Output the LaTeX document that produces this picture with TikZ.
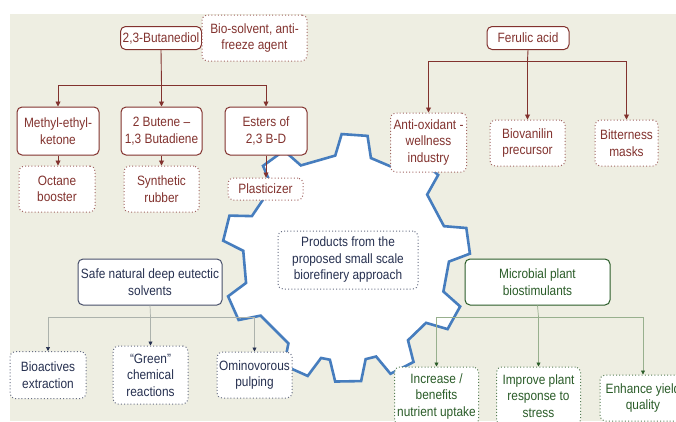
\documentclass[tikz,border=0pt]{standalone}
\usepackage{fontspec}
\setmainfont{Liberation Sans}[FakeStretch=0.88]
\usepackage{tikz}
\usepackage{xcolor}
\usetikzlibrary{arrows.meta}

\definecolor{bgbeige}{RGB}{238,238,226}
\definecolor{brownc}{RGB}{130,50,46}
\definecolor{navyc}{RGB}{38,48,80}
\definecolor{greenc}{RGB}{42,92,40}
\definecolor{gearblue}{RGB}{70,125,190}
\definecolor{grayline}{RGB}{172,178,172}
\definecolor{greenline}{RGB}{152,176,142}

\tikzset{
  prodbox/.style={rectangle, rounded corners=5pt, fill=white, align=center,
    inner sep=0pt, line width=1pt, font=\fontsize{13.5pt}{16.5pt}\selectfont},
  dots/.style={dash pattern=on 1pt off 2.2pt, line width=1pt},
  brownbox/.style={prodbox, draw=brownc, text=brownc},
  browndots/.style={prodbox, dots, draw=brownc!75, text=brownc},
  navybox/.style={prodbox, draw=navyc!85, text=navyc},
  navydots/.style={prodbox, dots, draw=navyc!70, text=navyc},
  greenbox/.style={prodbox, draw=greenc, text=greenc},
  greendots/.style={prodbox, dots, draw=greenc!80, text=greenc},
  brownarrow/.style={draw=brownc, line width=0.9pt, -{Triangle[width=5pt,length=5pt]}},
  grayarrow/.style={draw=grayline, line width=0.7pt, -{Triangle[width=4pt,length=4pt,color=navyc]}},
  greenarrow/.style={draw=greenline, line width=0.7pt, -{Triangle[width=4pt,length=4pt,color=greenc]}}
}

\begin{document}
\begin{tikzpicture}[x=1pt, y=-1pt]
  % Page frame and background
  \clip (0,0) rectangle (676,421);
  \fill[white] (0,0) rectangle (676,421);
  \fill[bgbeige] (10,14) rectangle (676,421);

  % Gear in the middle
  \begin{scope}[shift={(346,258)}, yscale=-1]
    \draw[gearblue, line width=2.6pt, fill=white, line join=miter]
      (-166:103) \foreach \a in {-156,-114,-89,-63,-29,8,48,86,126,166} {
        -- (\a-10:103) -- (\a-6:124) -- (\a+6:124) -- (\a+10:103)
      } -- cycle;
  \end{scope}
  \node[navydots, minimum width=140pt, minimum height=58pt] (center) at (348,260)
    {Products from the\\proposed small scale\\biorefinery approach};

  % 2,3-Butanediol branch
  \node[brownbox, minimum width=81pt, minimum height=23pt] (butanediol) at (161,38) {2,3-Butanediol};
  \node[browndots, minimum width=105pt, minimum height=46pt] (biosolvent) at (254.5,38) {Bio-solvent, anti-\\freeze agent};
  \node[brownbox, minimum width=82pt, minimum height=48pt] (mek) at (58,131) {Methyl-ethyl-\\ketone};
  \node[brownbox, minimum width=81pt, minimum height=48pt] (butene) at (161.5,131) {2 Butene –\\1,3 Butadiene};
  \node[brownbox, minimum width=82pt, minimum height=48pt] (esters) at (266,131) {Esters of\\2,3 B-D};
  \node[browndots, minimum width=76pt, minimum height=46pt] (octane) at (57,189) {Octane\\booster};
  \node[browndots, minimum width=75pt, minimum height=46pt] (rubber) at (161.5,189) {Synthetic\\rubber};
  \node[browndots, minimum width=75pt, minimum height=22pt] (plasticizer) at (265.5,189) {Plasticizer};

  \coordinate (bdbus) at (161.5,85);
  \draw[brownc, line width=0.9pt] (butanediol.south) -- (bdbus);
  \draw[brownarrow] (bdbus) -| (mek.north);
  \draw[brownarrow] (bdbus) -- (butene.north);
  \draw[brownarrow] (bdbus) -| (esters.north);
  \draw[brownarrow] (mek.south) -- (mek.south |- octane.north);
  \draw[brownarrow] (butene.south) -- (rubber.north);
  \draw[brownarrow] (esters.south) -- (esters.south |- plasticizer.north);

  % Ferulic acid branch
  \node[brownbox, minimum width=82pt, minimum height=23pt] (ferulic) at (528,38) {Ferulic acid};
  \node[browndots, minimum width=76pt, minimum height=59pt] (antiox) at (428.5,142.5) {Anti-oxidant -\\wellness\\industry};
  \node[browndots, minimum width=75pt, minimum height=46pt] (biovanilin) at (527.5,143) {Biovanilin\\precursor};
  \node[browndots, minimum width=63pt, minimum height=46pt] (bitter) at (626.5,143) {Bitterness\\masks};

  \coordinate (fabus) at (527.5,61);
  \draw[brownc, line width=0.9pt] (ferulic.south) -- (fabus);
  \draw[brownarrow] (fabus) -| (antiox.north);
  \draw[brownarrow] (fabus) -- (biovanilin.north);
  \draw[brownarrow] (fabus) -| (bitter.north);

  % Deep eutectic solvents branch
  \node[navybox, minimum width=144pt, minimum height=46pt] (nades) at (150,282) {Safe natural deep eutectic\\solvents};
  \node[navydots, minimum width=76pt, minimum height=47pt] (bioactives) at (48,375) {Bioactives\\extraction};
  \node[navydots, minimum width=75pt, minimum height=58pt] (greenchem) at (150.5,375) {“Green”\\chemical\\reactions};
  \node[navydots, minimum width=75pt, minimum height=46pt] (pulping) at (254.5,375) {Ominovorous\\pulping};

  \coordinate (nbus) at (150.5,317);
  \draw[grayline, line width=0.7pt] (nades.south) -- (nbus);
  \draw[grayarrow] (nbus) -| (bioactives.north);
  \draw[grayarrow] (nbus) -- (greenchem.north);
  \draw[grayarrow] (nbus) -| (pulping.north);

  % Microbial biostimulants branch
  \node[greenbox, minimum width=145pt, minimum height=46pt] (microbial) at (537.5,282) {Microbial plant\\biostimulants};
  \node[greendots, minimum width=84pt, minimum height=58pt] (uptake) at (436.5,396) {Increase /\\benefits\\nutrient uptake};
  \node[greendots, minimum width=84pt, minimum height=58pt] (stress) at (538.5,396) {Improve plant\\response to\\stress};
  \node[greendots, minimum width=86pt, minimum height=46pt] (yield) at (643,398) {Enhance yield\\quality};

  \coordinate (mbus) at (538.5,317);
  \draw[greenline, line width=0.7pt] (microbial.south) -- (mbus);
  \draw[greenarrow] (mbus) -| (uptake.north);
  \draw[greenarrow] (mbus) -- (stress.north);
  \draw[greenarrow] (mbus) -| (yield.north);
\end{tikzpicture}
\end{document}
